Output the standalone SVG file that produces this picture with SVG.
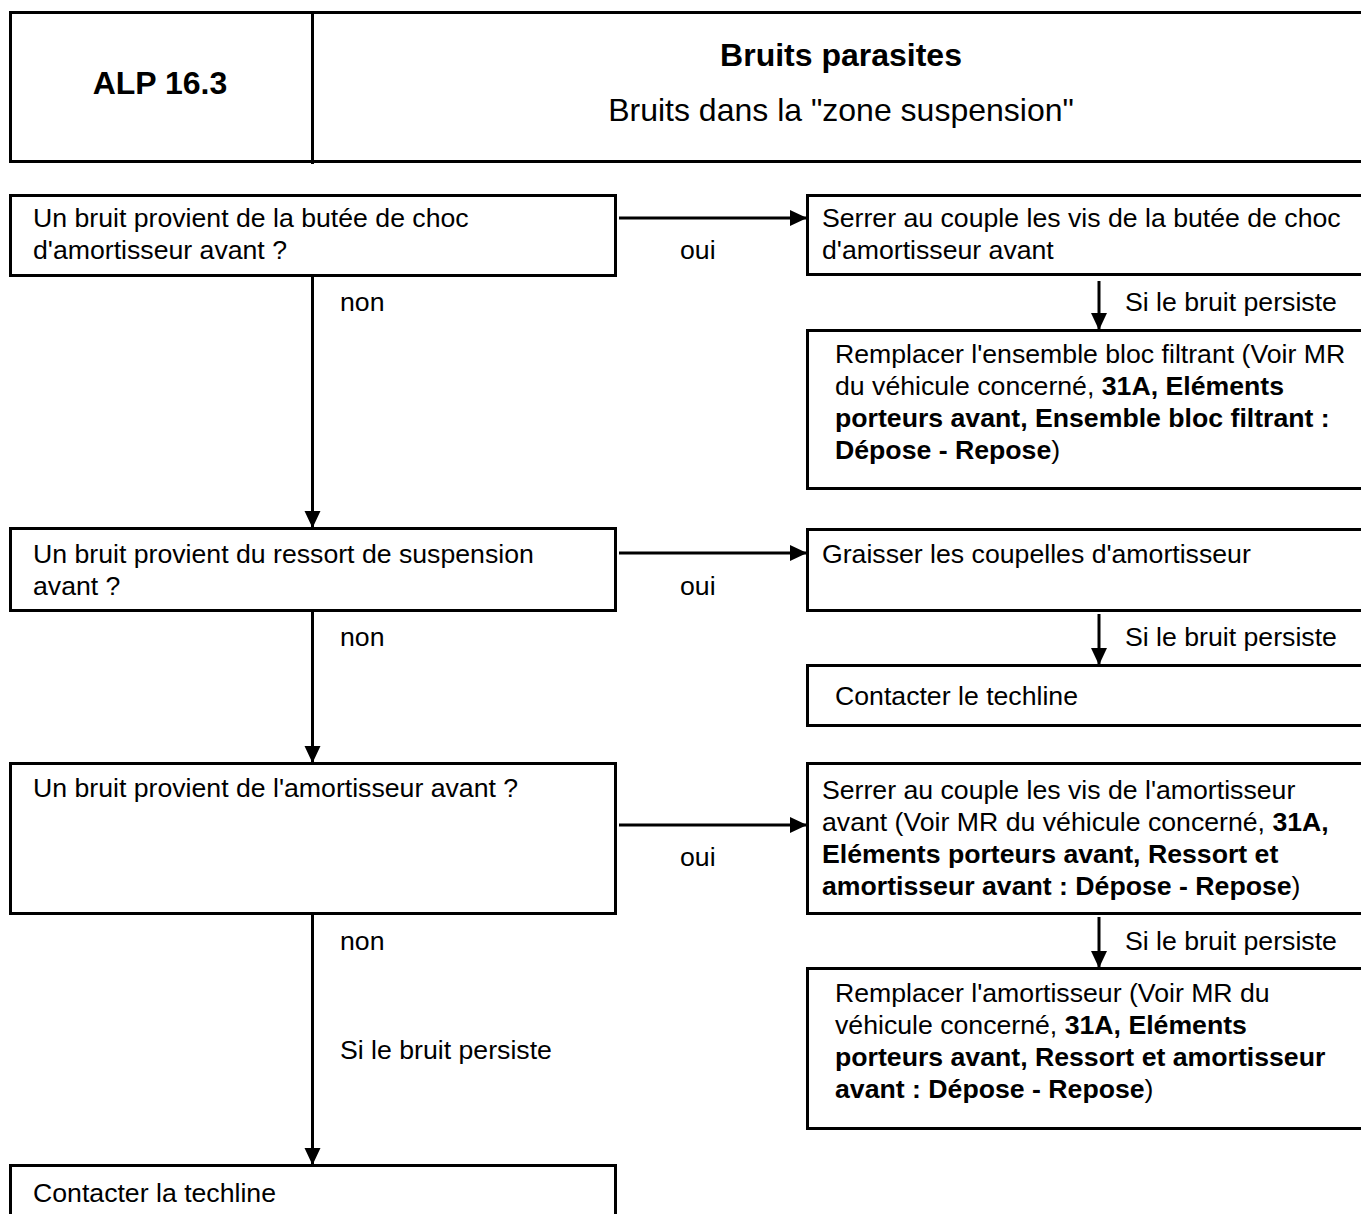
<svg xmlns="http://www.w3.org/2000/svg" width="1361" height="1214" viewBox="0 0 1361 1214">
<style>
.box{fill:#fff;stroke:#000;stroke-width:3}
.t{font-family:"Liberation Sans",Arial,sans-serif;font-size:26.67px;fill:#000}
.h{font-family:"Liberation Sans",Arial,sans-serif;font-size:32px;fill:#000}
.b{font-weight:bold}
.c{stroke:#000;stroke-width:3;fill:none}
</style>
<defs>
<marker id="ah" markerUnits="userSpaceOnUse" markerWidth="18" markerHeight="18" refX="17" refY="8" orient="auto">
<path d="M0,0 L17,8 L0,16 z" fill="#000"/>
</marker>
</defs>
<rect width="1361" height="1214" fill="#fff"/>
<g id="header">
<rect class="box" x="10.5" y="12.5" width="1360" height="149"/>
<line class="c" x1="312.5" y1="12" x2="312.5" y2="164"/>
<text class="h b" x="160" y="94" text-anchor="middle">ALP 16.3</text>
<text class="h b" x="841" y="66" text-anchor="middle">Bruits parasites</text>
<text class="h" x="841" y="121" text-anchor="middle">Bruits dans la "zone suspension"</text>
</g>
<g id="q1">
<rect class="box" x="10.5" y="195.5" width="605" height="80"/>
<text class="t" x="33" y="227">Un bruit provient de la butée de choc</text>
<text class="t" x="33" y="259">d'amortisseur avant ?</text>
</g>
<g id="a1">
<rect class="box" x="807.5" y="195.5" width="570" height="79"/>
<text class="t" x="822" y="227">Serrer au couple les vis de la butée de choc</text>
<text class="t" x="822" y="259">d'amortisseur avant</text>
</g>
<g id="a1b">
<rect class="box" x="807.5" y="330.5" width="570" height="158"/>
<text class="t" x="835" y="363">Remplacer l'ensemble bloc filtrant (Voir MR</text>
<text class="t" x="835" y="395">du véhicule concerné, <tspan class="b">31A, Eléments</tspan></text>
<text class="t b" x="835" y="427">porteurs avant, Ensemble bloc filtrant :</text>
<text class="t" x="835" y="459"><tspan class="b">Dépose - Repose</tspan>)</text>
</g>
<g id="q2">
<rect class="box" x="10.5" y="528.5" width="605" height="82"/>
<text class="t" x="33" y="563">Un bruit provient du ressort de suspension</text>
<text class="t" x="33" y="595">avant ?</text>
</g>
<g id="a2">
<rect class="box" x="807.5" y="529.5" width="570" height="81"/>
<text class="t" x="822" y="563">Graisser les coupelles d'amortisseur</text>
</g>
<g id="a2b">
<rect class="box" x="807.5" y="665.5" width="570" height="60"/>
<text class="t" x="835" y="705">Contacter le techline</text>
</g>
<g id="q3">
<rect class="box" x="10.5" y="763.5" width="605" height="150"/>
<text class="t" x="33" y="797">Un bruit provient de l'amortisseur avant ?</text>
</g>
<g id="a3">
<rect class="box" x="807.5" y="763.5" width="570" height="150"/>
<text class="t" x="822" y="799">Serrer au couple les vis de l'amortisseur</text>
<text class="t" x="822" y="831">avant (Voir MR du véhicule concerné, <tspan class="b">31A,</tspan></text>
<text class="t b" x="822" y="863">Eléments porteurs avant, Ressort et</text>
<text class="t" x="822" y="895"><tspan class="b">amortisseur avant : Dépose - Repose</tspan>)</text>
</g>
<g id="a3b">
<rect class="box" x="807.5" y="968.5" width="570" height="160"/>
<text class="t" x="835" y="1002">Remplacer l'amortisseur (Voir MR du</text>
<text class="t" x="835" y="1034">véhicule concerné, <tspan class="b">31A, Eléments</tspan></text>
<text class="t b" x="835" y="1066">porteurs avant, Ressort et amortisseur</text>
<text class="t" x="835" y="1098"><tspan class="b">avant : Dépose - Repose</tspan>)</text>
</g>
<g id="end">
<rect class="box" x="10.5" y="1165.5" width="605" height="80"/>
<text class="t" x="33" y="1202">Contacter la techline</text>
</g>
<g id="connectors">
<line class="c" x1="619" y1="218" x2="807" y2="218" marker-end="url(#ah)"/>
<line class="c" x1="1099" y1="281" x2="1099" y2="330" marker-end="url(#ah)"/>
<line class="c" x1="312.5" y1="275" x2="312.5" y2="528" marker-end="url(#ah)"/>
<line class="c" x1="619" y1="553" x2="807" y2="553" marker-end="url(#ah)"/>
<line class="c" x1="1099" y1="614" x2="1099" y2="665" marker-end="url(#ah)"/>
<line class="c" x1="312.5" y1="610" x2="312.5" y2="763" marker-end="url(#ah)"/>
<line class="c" x1="619" y1="825" x2="807" y2="825" marker-end="url(#ah)"/>
<line class="c" x1="1099" y1="917" x2="1099" y2="968" marker-end="url(#ah)"/>
<line class="c" x1="312.5" y1="913" x2="312.5" y2="1165" marker-end="url(#ah)"/>
<text class="t" x="680" y="259">oui</text>
<text class="t" x="680" y="595">oui</text>
<text class="t" x="680" y="866">oui</text>
<text class="t" x="340" y="311">non</text>
<text class="t" x="340" y="646">non</text>
<text class="t" x="340" y="950">non</text>
<text class="t" x="1125" y="311">Si le bruit persiste</text>
<text class="t" x="1125" y="646">Si le bruit persiste</text>
<text class="t" x="1125" y="950">Si le bruit persiste</text>
<text class="t" x="340" y="1059">Si le bruit persiste</text>
</g>
</svg>
